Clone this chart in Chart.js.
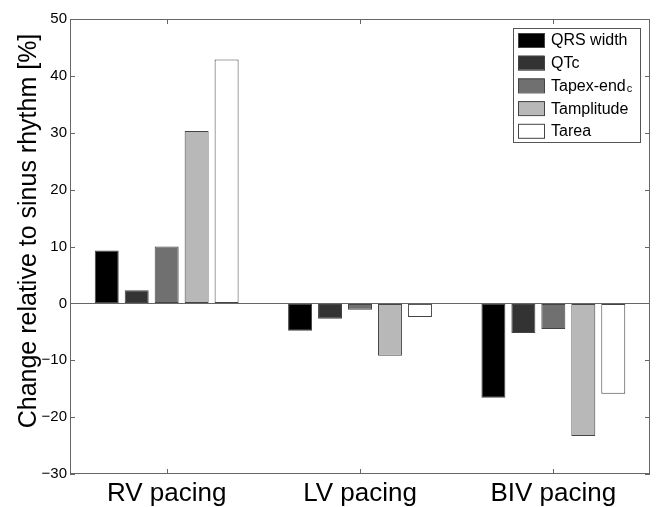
<!DOCTYPE html>
<html>
<head>
<meta charset="utf-8">
<script src="https://cdn.jsdelivr.net/npm/chart.js@4"></script>
<style>
  html, body { margin: 0; padding: 0; background: #fff; }
  #wrap { width: 659px; height: 507px; }
</style>
</head>
<body>
<div id="wrap"><canvas id="myChart" width="659" height="507"></canvas></div>
<script>
// Kategorien und Werte
const categories = ['RV pacing', 'LV pacing', 'BIV pacing'];
const seriesNames = ['QRS width', 'QTc', 'Tapex-endc', 'Tamplitude', 'Tarea'];
const qrsWidth   = [9.3, -4.8, -16.6];
const qtc        = [2.3, -2.7, -5.2];
const tapexEnd   = [10.0, -1.1, -4.5];
const tamplitude = [30.3, -9.2, -23.3];
const tarea      = [42.9, -2.4, -15.9];
const yTicks = [50, 40, 30, 20, 10, 0, -10, -20, -30];
const yTitle = 'Change relative to sinus rhythm [%]';

const colors = ['#000000', '#333333', '#707070', '#b8b8b8', '#ffffff'];
const values = [qrsWidth, qtc, tapexEnd, tamplitude, tarea];

const font = "Arial, 'Liberation Sans', sans-serif";

// Rahmen mit Ticks nach innen, Achsentitel + Legende im Plotbereich
const framePlugin = {
    id: 'frame',
    afterDraw(chart) {
        const c = chart.ctx;
        const a = chart.chartArea;
        const x = chart.scales.x, y = chart.scales.y;
        c.save();
        c.strokeStyle = '#666';
        c.lineWidth = 1;
        c.strokeRect(a.left + 0.5, a.top + 0.5, a.right - a.left - 1, a.bottom - a.top - 1);
        c.beginPath();
        yTicks.forEach(v => {
            const py = Math.round(y.getPixelForValue(v)) + 0.5;
            c.moveTo(a.left, py); c.lineTo(a.left + 5, py);
            c.moveTo(a.right, py); c.lineTo(a.right - 5, py);
        });
        categories.forEach((_, i) => {
            const px = Math.round(x.getPixelForValue(i)) + 0.5;
            c.moveTo(px, a.bottom); c.lineTo(px, a.bottom - 5);
            c.moveTo(px, a.top); c.lineTo(px, a.top + 5);
        });
        c.stroke();

        // y-Achsentitel
        c.save();
        c.translate(36, 231);
        c.rotate(-Math.PI / 2);
        c.fillStyle = '#000';
        c.font = '25px ' + font;
        c.textAlign = 'center';
        c.textBaseline = 'alphabetic';
        c.fillText(yTitle, 0, 0);
        c.restore();

        // Legende
        const lx = 513, ly = 28, lw = 127, lh = 114;
        c.fillStyle = '#fff';
        c.fillRect(lx, ly, lw, lh);
        c.strokeStyle = '#555';
        c.strokeRect(lx + 0.5, ly + 0.5, lw, lh);
        chart.data.datasets.forEach((ds, i) => {
            const ry = ly + 5 + i * 22.7;
            c.fillStyle = ds.backgroundColor;
            c.fillRect(lx + 5, ry, 26, 14);
            c.strokeStyle = '#444';
            c.strokeRect(lx + 5.5, ry + 0.5, 26, 14);
            c.fillStyle = '#000';
            c.font = '16px ' + font;
            c.textBaseline = 'middle';
            if (ds.label === 'Tapex-endc') {
                c.fillText('Tapex-end', lx + 38, ry + 8);
                const w = c.measureText('Tapex-end').width;
                c.font = '11px ' + font;
                c.fillText('c', lx + 38 + w + 1, ry + 11);
            } else {
                c.fillText(ds.label, lx + 38, ry + 8);
            }
        });
        c.restore();
    }
};

const ctx = document.getElementById('myChart').getContext('2d');
const myChart = new Chart(ctx, {
    type: 'bar',
    data: {
        labels: categories,
        datasets: seriesNames.map((name, i) => ({
            label: name,
            data: values[i],
            backgroundColor: colors[i],
            borderColor: '#444',
            borderWidth: 1,
            borderSkipped: false,
            categoryPercentage: 0.775,
            barPercentage: 0.8
        }))
    },
    options: {
        responsive: false,
        animation: false,
        layout: { padding: { top: 19, right: 9, left: 0, bottom: 0 } },
        plugins: {
            legend: { display: false },
            tooltip: { enabled: false }
        },
        scales: {
            x: {
                grid: { display: false, drawTicks: false },
                border: { display: false },
                ticks: { color: '#000', font: { size: 26, family: font }, padding: 4 },
                afterFit(s) { s.height = 33; }
            },
            y: {
                min: -30,
                max: 50,
                afterBuildTicks(s) { s.ticks = yTicks.map(v => ({ value: v })); },
                grid: {
                    drawTicks: false,
                    color: c => (c.tick && c.tick.value === 0) ? '#666' : 'rgba(0,0,0,0)'
                },
                border: { display: false },
                ticks: {
                    color: '#000',
                    font: { size: 15, family: font },
                    padding: 3,
                    callback: v => (v < 0 ? '\u2212' + Math.abs(v) : String(v))
                },
                afterFit(s) { s.width = 70; }
            }
        }
    },
    plugins: [framePlugin]
});
</script>
</body>
</html>
